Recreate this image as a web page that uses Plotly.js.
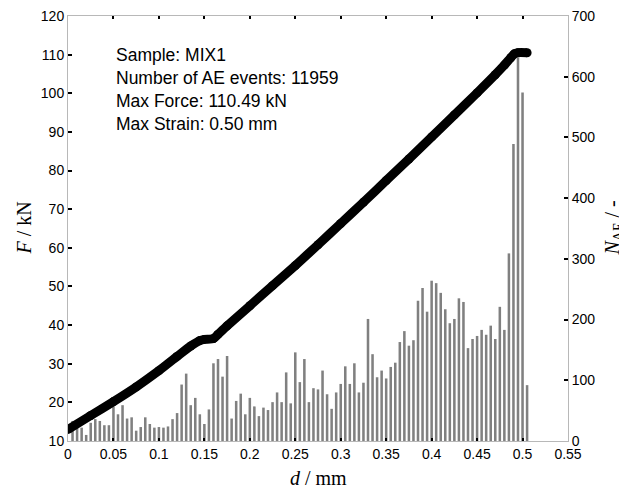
<!DOCTYPE html>
<html>
<head>
<meta charset="utf-8">
<script src="https://cdn.plot.ly/plotly-3.0.1.min.js"></script>
<style>html,body{margin:0;padding:0;background:#fff;}#chart{width:619px;height:492px;}</style>
</head>
<body>
<div id="chart"></div>
<script>
// Force–displacement curve
var dForce = [0, 0.025, 0.05, 0.075, 0.1, 0.12, 0.135, 0.145, 0.15, 0.16, 0.165, 0.175, 0.2, 0.225, 0.25, 0.275, 0.3, 0.325, 0.35, 0.375, 0.4, 0.425, 0.45, 0.47, 0.48, 0.487, 0.491, 0.495, 0.505];
var force = [13, 16.6, 20.2, 24.0, 28.2, 31.9, 34.6, 36.0, 36.3, 36.5, 37.6, 39.8, 45.0, 50.2, 55.4, 60.8, 66.3, 71.8, 77.4, 83.0, 88.7, 94.4, 100.1, 104.8, 107.3, 109.2, 110.2, 110.5, 110.5];

// AE event counts per displacement bin
var dBins = [0.005,0.01,0.015,0.02,0.025,0.03,0.035,0.04,0.045,0.05,
             0.055,0.06,0.065,0.07,0.075,0.08,0.085,0.09,0.095,0.1,
             0.105,0.11,0.115,0.12,0.125,0.13,0.135,0.14,0.145,0.15,
             0.155,0.16,0.165,0.17,0.175,0.18,0.185,0.19,0.195,0.2,
             0.205,0.21,0.215,0.22,0.225,0.23,0.235,0.24,0.245,0.25,
             0.255,0.26,0.265,0.27,0.275,0.28,0.285,0.29,0.295,0.3,
             0.305,0.31,0.315,0.32,0.325,0.33,0.335,0.34,0.345,0.35,
             0.355,0.36,0.365,0.37,0.375,0.38,0.385,0.39,0.395,0.4,
             0.405,0.41,0.415,0.42,0.425,0.43,0.435,0.44,0.445,0.45,
             0.455,0.46,0.465,0.47,0.475,0.48,0.485,0.49,0.495,0.5,0.505];
var aeCounts = [33,25,22,10,30,36,33,26,26,57,
                44,59,37,39,17,23,39,28,22,23,
                22,24,36,46,93,111,59,71,44,28,
                52,128,135,106,140,37,66,78,44,71,
                57,41,55,51,64,80,64,113,62,146,
                97,135,64,87,85,116,77,53,80,94,
                123,94,128,80,96,201,143,105,116,103,
                122,129,163,181,157,166,231,252,213,264,
                260,244,217,194,201,235,229,153,168,173,
                183,175,190,168,221,183,309,489,631,574,92];

var infoLines = ["Sample: MIX1", "Number of AE events: 11959", "Max Force: 110.49 kN", "Max Strain: 0.50 mm"];

var xTitle = "<i>d</i> / mm";
var yTitle = "<i>F</i> / kN";
var y2Title = "<i>N</i><sub>AE</sub> / -";

var sans = "'Liberation Sans', Arial, sans-serif";
var serif = "'Liberation Serif', 'Times New Roman', serif";
var axisGray = "#b8b8b8";

var traces = [
  {
    type: "bar", x: dBins, y: aeCounts, xaxis: "x", yaxis: "y",
    marker: {color: "#808080", line: {width: 0}},
    width: 0.0028, hoverinfo: "skip"
  },
  {
    type: "scatter", mode: "lines+markers", x: dForce, y: force, xaxis: "x", yaxis: "y2",
    line: {color: "#000", width: 9, shape: "spline", smoothing: 0.6},
    marker: {color: "#000", size: 9},
    hoverinfo: "skip"
  }
];

var annotations = [];
var lineY = [55, 78, 101, 124];
for (var i = 0; i < infoLines.length; i++) {
  annotations.push({
    text: infoLines[i], xref: "paper", yref: "paper",
    x: (114 - 68) / 500, y: (441 - lineY[i]) / 425,
    xanchor: "left", yanchor: "middle", showarrow: false,
    font: {family: sans, size: 17.5, color: "#000"}
  });
}
annotations.push({text: xTitle, xref: "paper", yref: "paper", x: 0.5, y: (441 - 478) / 425,
  xanchor: "center", yanchor: "middle", showarrow: false, font: {family: serif, size: 20, color: "#000"}});
annotations.push({text: yTitle, xref: "paper", yref: "paper", x: (23 - 68) / 500, y: 0.5, textangle: -90,
  xanchor: "center", yanchor: "middle", showarrow: false, font: {family: serif, size: 20, color: "#000"}});
annotations.push({text: y2Title, xref: "paper", yref: "paper", x: (613 - 68) / 500, y: 0.5, textangle: -90,
  xanchor: "center", yanchor: "middle", showarrow: false, font: {family: serif, size: 20, color: "#000"}});

var tickFont = {family: sans, size: 14, color: "#000"};
var layout = {
  width: 619, height: 492,
  margin: {l: 68, r: 51, t: 16, b: 51, pad: 0},
  paper_bgcolor: "#fff", plot_bgcolor: "#fff",
  showlegend: false,
  font: {family: sans, size: 14, color: "#000"},
  xaxis: {
    range: [0, 0.55], tick0: 0, dtick: 0.05, showgrid: false, zeroline: false,
    showline: true, linecolor: axisGray, linewidth: 1, mirror: "ticks",
    ticks: "inside", ticklen: 3, tickwidth: 2, tickcolor: "#000",
    tickfont: tickFont
  },
  yaxis: {
    range: [0, 700], tick0: 0, dtick: 100, side: "right", showgrid: false, zeroline: false,
    showline: true, linecolor: axisGray, linewidth: 1,
    ticks: "inside", ticklen: 4, tickwidth: 2, tickcolor: "#000",
    tickfont: tickFont
  },
  yaxis2: {
    range: [10, 120], tick0: 10, dtick: 10, side: "left", overlaying: "y", showgrid: false, zeroline: false,
    showline: true, linecolor: axisGray, linewidth: 1,
    ticks: "inside", ticklen: 4, tickwidth: 2, tickcolor: "#000",
    tickfont: tickFont
  },
  annotations: annotations
};

Plotly.newPlot("chart", traces, layout, {staticPlot: true, displayModeBar: false});
</script>
</body>
</html>
